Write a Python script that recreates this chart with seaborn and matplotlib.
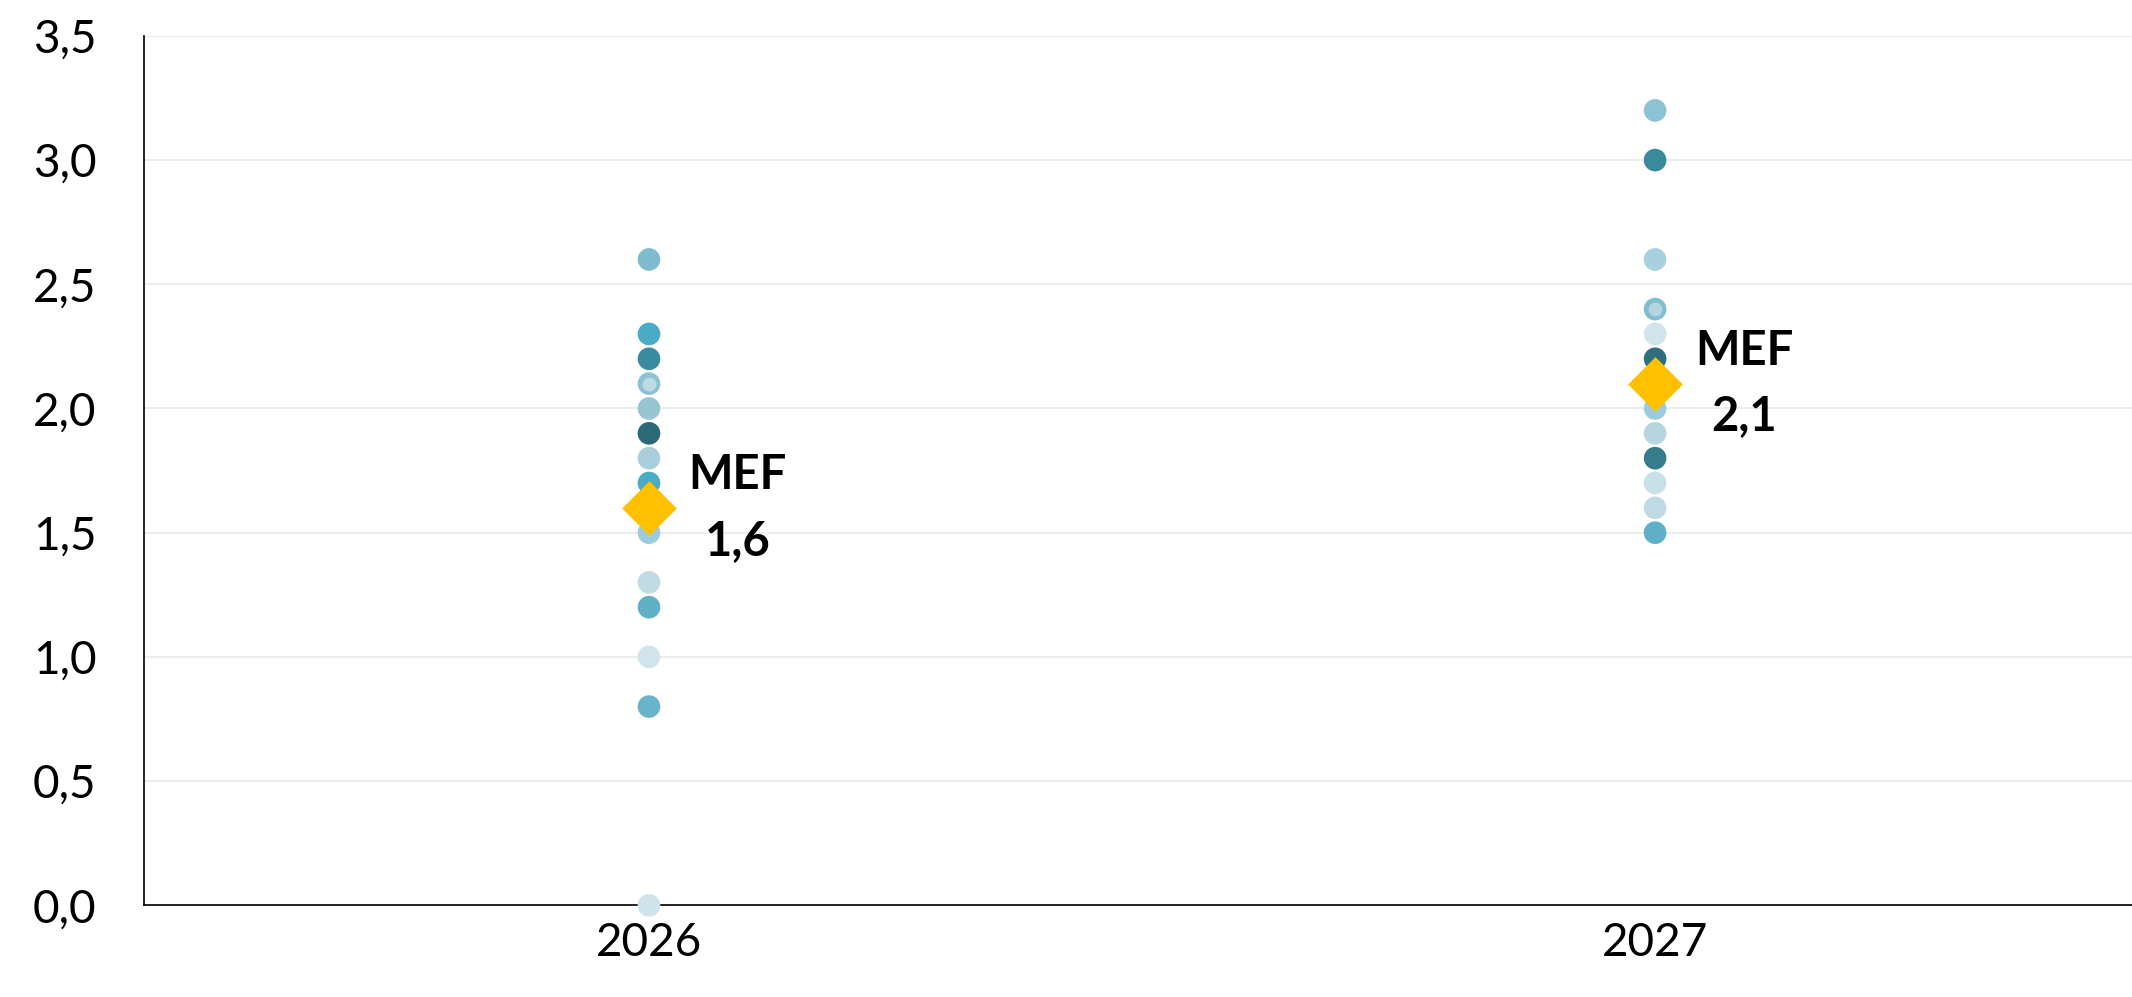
import pandas as pd
import matplotlib
matplotlib.use('Agg')
import matplotlib.pyplot as plt
import seaborn as sns
from matplotlib.ticker import FuncFormatter, MultipleLocator

# Forecasts per year (each dot is one forecaster)
anni = ['2026', '2027']
val_2026 = [2.6, 2.3, 2.2, 2.1, 2.0, 1.9, 1.8, 1.7, 1.5, 1.3, 1.2, 1.0, 0.8, 0.0]
col_2026 = ['#7fbccf', '#4aabc4', '#3b8ba0', '#8cc2d4', '#98c5d4', '#2b6878', '#a9cfdc',
            '#4aabc4', '#9ccbdb', '#c0dbe4', '#60b0c8', '#d0e4eb', '#6ab4cb', '#cfe3ea']
val_2027 = [3.2, 3.0, 2.6, 2.4, 2.3, 2.2, 2.0, 1.9, 1.8, 1.7, 1.6, 1.5]
col_2027 = ['#8cc2d4', '#3a8a9e', '#a8d0dd', '#7fbdd0', '#d1e4eb', '#2e6e7d', '#9ccbdb',
            '#b6d5e0', '#367c8c', '#c8e0e8', '#c0dbe4', '#60b0c8']
# overlapping smaller dots (ring look)
val_inner = [2.1, 2.4]
col_inner = ['#bcdbe5', '#b5d5e0']
# MEF estimate
mef = [1.6, 2.1]

df = pd.DataFrame({
    'anno': ['2026'] * len(val_2026) + ['2027'] * len(val_2027),
    'valore': val_2026 + val_2027,
    'colore': col_2026 + col_2027,
})
df_in = pd.DataFrame({'anno': anni, 'valore': val_inner, 'colore': col_inner})
df_mef = pd.DataFrame({'anno': anni, 'valore': mef})

sns.set_style('white')
plt.rcParams['font.family'] = ['Lato', 'DejaVu Sans']
plt.rcParams['text.color'] = 'black'
plt.rcParams['xtick.color'] = 'black'
plt.rcParams['ytick.color'] = 'black'

fig = plt.figure(figsize=(21.32, 9.97), dpi=100)
ax = fig.add_axes([0.0675, 0.092, 0.9325, 0.872])

pal = {c: c for c in set(df['colore']) | set(col_inner)}
sns.stripplot(data=df, x='anno', y='valore', hue='colore', palette=pal, jitter=False,
              size=16.3, linewidth=0, legend=False, order=anni, ax=ax, zorder=3,
              clip_on=False)
sns.stripplot(data=df_in, x='anno', y='valore', hue='colore', palette=pal, jitter=False,
              size=10, linewidth=0, legend=False, order=anni, ax=ax, zorder=4)
sns.scatterplot(data=df_mef, x='anno', y='valore', marker='D', s=775, color='#FFC000',
                linewidth=0, ax=ax, zorder=5, legend=False)

for i, v in enumerate(mef):
    ax.annotate('MEF\n' + f'{v:.1f}'.replace('.', ','), xy=(i, v), xytext=(64, 0),
                textcoords='offset points', ha='center', va='center', fontsize=34,
                fontweight='bold', linespacing=1.6, zorder=6, color='black')

ax.set_xlim(-0.502, 1.474)
ax.set_ylim(0, 3.5)
ax.yaxis.set_major_locator(MultipleLocator(0.5))
ax.yaxis.set_major_formatter(FuncFormatter(lambda v, p: f'{v:.1f}'.replace('.', ',')))
ax.grid(axis='y', color='#ededed', linewidth=1.5, zorder=0)
ax.set_axisbelow(True)
for s in ['top', 'right']:
    ax.spines[s].set_visible(False)
for s in ['left', 'bottom']:
    ax.spines[s].set_color('black')
    ax.spines[s].set_linewidth(1.2)
ax.tick_params(axis='both', length=0, labelsize=33)
ax.tick_params(axis='y', pad=34)
ax.tick_params(axis='x', pad=12)
ax.set_xlabel('')
ax.set_ylabel('')

fig.savefig('out.png', dpi=100)
